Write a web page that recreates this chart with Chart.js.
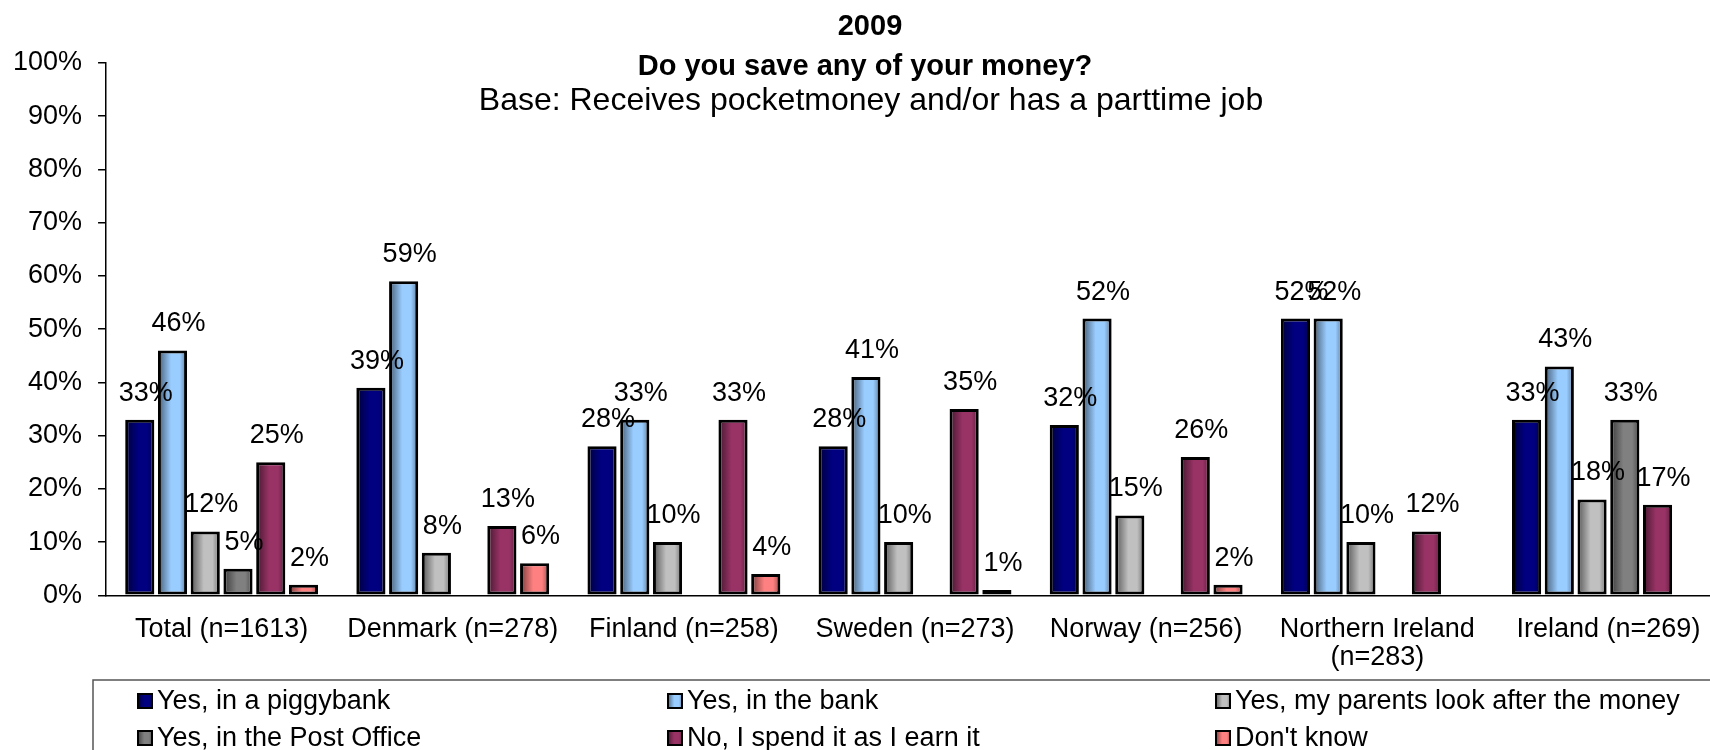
<!DOCTYPE html>
<html>
<head>
<meta charset="utf-8">
<title>Do you save any of your money?</title>
<script src="https://cdn.jsdelivr.net/npm/chart.js@4.4.0/dist/chart.umd.min.js"></script>
<style>
  html, body { margin: 0; padding: 0; background: #fff; overflow: hidden; }
  /* the plot runs slightly past the right edge, so the canvas is wider than the frame */
  #frame { width: 1710px; height: 750px; overflow: hidden; }
  canvas { display: block; }
</style>
</head>
<body>
<div id="frame"><canvas id="savingsChart" width="1724" height="750"></canvas></div>
<script>
const categories = [
  'Total (n=1613)', 'Denmark (n=278)', 'Finland (n=258)', 'Sweden (n=273)',
  'Norway (n=256)', ['Northern Ireland', '(n=283)'], 'Ireland (n=269)'
];

// percentages per country, null = not asked / no answer shown
const piggybank  = [33, 39, 28, 28, 32, 52, 33];
const inTheBank  = [46, 59, 33, 41, 52, 52, 43];
const parents    = [12, 8, 10, 10, 15, 10, 18];
const postOffice = [5, null, null, null, null, null, 33];
const spendIt    = [25, 13, 33, 35, 26, 12, 17];
const dontKnow   = [2, 6, 4, 1, 2, null, null];

const seriesNames = [
  'Yes, in a piggybank', 'Yes, in the bank', 'Yes, my parents look after the money',
  'Yes, in the Post Office', 'No, I spend it as I earn it', "Don't know"
];
const seriesColors = ['#000080', '#99ccff', '#c0c0c0', '#808080', '#993366', '#ff8080'];

const titleLines = ['2009', 'Do you save any of your money?'];
const subtitleText = 'Base: Receives pocketmoney and/or has a parttime job';

const FONT = "'Liberation Sans', Arial, sans-serif";

function shade(hex, f) {
  const n = parseInt(hex.slice(1), 16);
  const r = Math.round(((n >> 16) & 255) * f);
  const g = Math.round(((n >> 8) & 255) * f);
  const b = Math.round((n & 255) * f);
  return 'rgb(' + r + ',' + g + ',' + b + ')';
}

// dark edges, plain colour in the middle
function sideGradient(ctx, color, left, right) {
  const g = ctx.createLinearGradient(left, 0, right, 0);
  g.addColorStop(0, shade(color, 0.45));
  g.addColorStop(0.45, color);
  g.addColorStop(0.75, color);
  g.addColorStop(1, shade(color, 0.6));
  return g;
}

const gradientBars = {
  id: 'gradientBars',
  beforeDatasetsDraw(chart) {
    const ctx = chart.ctx;
    chart.data.datasets.forEach((ds, i) => {
      chart.getDatasetMeta(i).data.forEach(bar => {
        const half = bar.width / 2;
        const fill = sideGradient(ctx, seriesColors[i], bar.x - half, bar.x + half);
        bar.options = Object.assign({}, bar.options, { backgroundColor: fill });
      });
    });
  }
};

const valueLabels = {
  id: 'valueLabels',
  afterDatasetsDraw(chart) {
    const ctx = chart.ctx;
    ctx.save();
    ctx.font = '27px ' + FONT;
    ctx.fillStyle = '#000';
    ctx.textAlign = 'center';
    ctx.textBaseline = 'alphabetic';
    chart.data.datasets.forEach((ds, i) => {
      chart.getDatasetMeta(i).data.forEach((bar, j) => {
        const v = ds.data[j];
        if (v === null || v === undefined) return;
        ctx.fillText(v + '%', bar.x + 6, bar.y - 19);
      });
    });
    ctx.restore();
  }
};

const headings = {
  id: 'headings',
  afterDraw(chart) {
    const ctx = chart.ctx;
    ctx.save();
    ctx.fillStyle = '#000';
    ctx.textAlign = 'center';
    ctx.textBaseline = 'middle';
    ctx.font = 'bold 29px ' + FONT;
    ctx.fillText(titleLines[0], 870, 27);
    ctx.fillText(titleLines[1], 865, 67);
    ctx.font = '32px ' + FONT;
    ctx.fillText(subtitleText, 871, 101);
    ctx.restore();
  }
};

// boxed legend, three columns by two rows
const legendGrid = {
  id: 'legendGrid',
  afterDraw(chart) {
    const ctx = chart.ctx;
    const colX = [137, 667, 1215];
    const rowY = [701, 738];
    ctx.save();
    ctx.strokeStyle = '#555';
    ctx.lineWidth = 1.5;
    ctx.strokeRect(93, 680, 1660, 100);
    ctx.font = '27px ' + FONT;
    ctx.textBaseline = 'middle';
    ctx.textAlign = 'left';
    seriesNames.forEach((name, i) => {
      const x = colX[i % 3];
      const y = rowY[Math.floor(i / 3)];
      ctx.fillStyle = sideGradient(ctx, seriesColors[i], x, x + 16);
      ctx.fillRect(x, y - 8, 16, 16);
      ctx.strokeStyle = '#000';
      ctx.lineWidth = 2;
      ctx.strokeRect(x + 1, y - 7, 14, 14);
      ctx.fillStyle = '#000';
      ctx.fillText(name, x + 20, y + 1);
    });
    ctx.restore();
  }
};

const seriesData = [piggybank, inTheBank, parents, postOffice, spendIt, dontKnow];

new Chart(document.getElementById('savingsChart'), {
  type: 'bar',
  data: {
    labels: categories,
    datasets: seriesData.map((values, i) => ({
      label: seriesNames[i],
      data: values,
      backgroundColor: seriesColors[i],
      borderColor: '#000',
      borderWidth: 3,
      borderSkipped: false,
      categoryPercentage: 0.85,
      barPercentage: 0.89
    }))
  },
  options: {
    responsive: false,
    animation: false,
    layout: { padding: { top: 63, left: -3, right: 0, bottom: 66 } },
    plugins: {
      legend: { display: false },
      title: { display: false },
      tooltip: { enabled: false }
    },
    scales: {
      x: {
        grid: { display: false },
        border: { color: '#000', width: 1.5 },
        ticks: {
          color: '#000',
          font: { family: FONT, size: 27, lineHeight: 1.05 },
          padding: 12,
          maxRotation: 0,
          autoSkip: false
        }
      },
      y: {
        min: 0,
        max: 100,
        grid: { drawOnChartArea: false, color: '#000', tickLength: 8, lineWidth: 1.5 },
        border: { color: '#000', width: 1.5 },
        ticks: {
          stepSize: 10,
          color: '#000',
          font: { family: FONT, size: 27 },
          padding: 16,
          callback: v => v + '%'
        }
      }
    }
  },
  plugins: [gradientBars, valueLabels, headings, legendGrid]
});
</script>
</body>
</html>
